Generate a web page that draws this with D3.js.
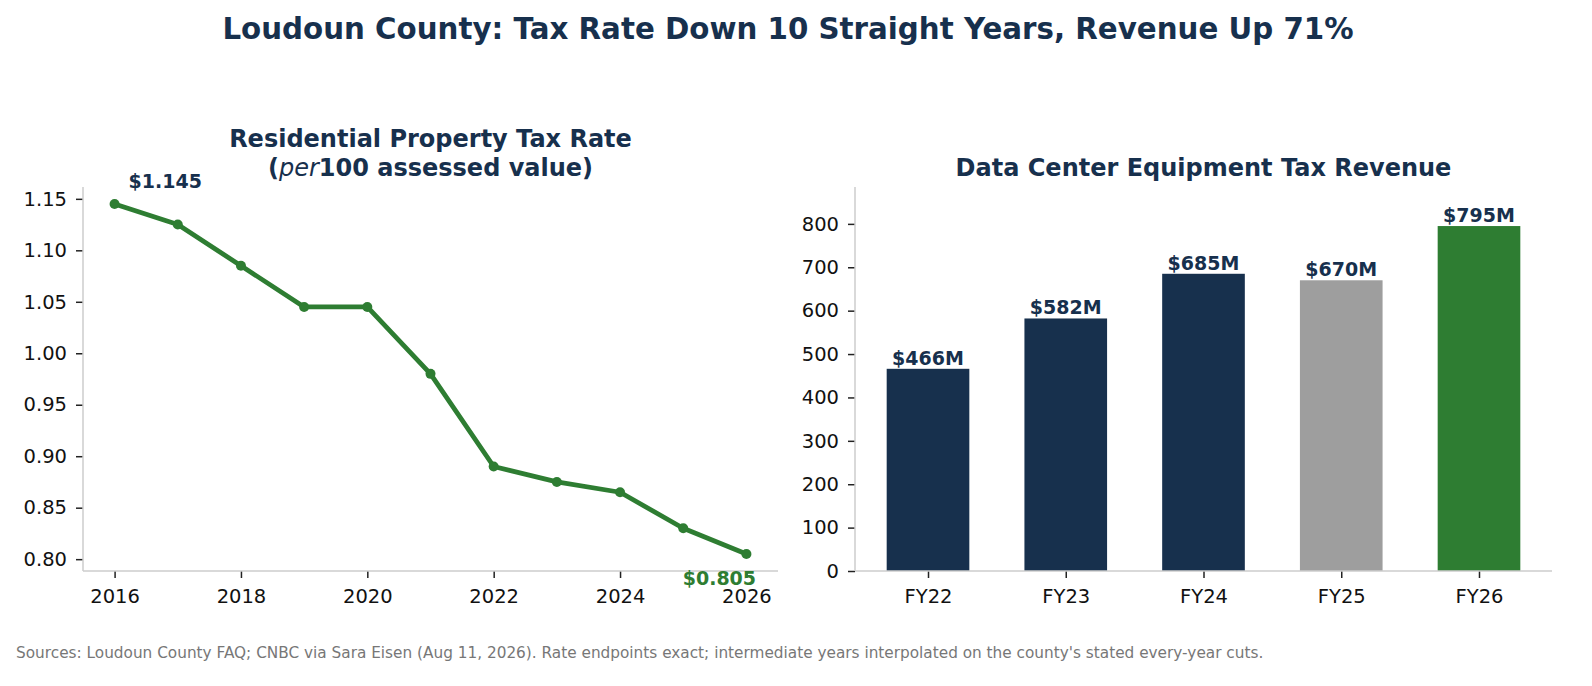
<!DOCTYPE html>
<html>
<head>
<meta charset="utf-8">
<script src="https://cdn.jsdelivr.net/npm/d3@7"></script>
<style>
  body { margin: 0; background: #fff; }
  svg { font-family: "DejaVu Sans", sans-serif; }
</style>
</head>
<body>
<svg id="chart" width="1592" height="686"></svg>
<script>
// 数据
const years = [2016, 2017, 2018, 2019, 2020, 2021, 2022, 2023, 2024, 2025, 2026];
const rates = [1.145, 1.125, 1.085, 1.045, 1.045, 0.98, 0.89, 0.875, 0.865, 0.83, 0.805];
const yearTicks = [2016, 2018, 2020, 2022, 2024, 2026];
const rateTicks = [0.80, 0.85, 0.90, 0.95, 1.00, 1.05, 1.10, 1.15];

const fiscalYears = ['FY22', 'FY23', 'FY24', 'FY25', 'FY26'];
const revenue = [466, 582, 685, 670, 795];
const revenueTicks = [0, 100, 200, 300, 400, 500, 600, 700, 800];
const barColors = ['#17304d', '#17304d', '#17304d', '#9e9e9e', '#2e7d32'];

const navy = '#17304d', green = '#2e7d32', spine = '#cccccc';

let svg = d3.select('#chart');

// 总标题
svg.append('text')
    .attr('x', 788).attr('y', 39)
    .attr('text-anchor', 'middle')
    .style('font-size', '29.3px').style('font-weight', 'bold')
    .attr('fill', navy)
    .text('Loudoun County: Tax Rate Down 10 Straight Years, Revenue Up 71%');

// 坐标轴样式
function styleAxis(g) {
    g.selectAll('.domain').remove();
    g.selectAll('.tick line').attr('stroke', '#222').attr('stroke-width', 1.5);
    g.selectAll('.tick text').attr('fill', '#111').style('font-size', '19.5px')
        .style('font-family', '"DejaVu Sans", sans-serif');
}

// ---------- 左图: 税率 ----------
let L = {left: 83, right: 778, top: 187, bottom: 571};
let xL = d3.scaleLinear().domain([2015.5, 2026.5]).range([L.left, L.right]);
let yL = d3.scaleLinear().domain([0.7885, 1.1615]).range([L.bottom, L.top]);

let gL = svg.append('g');

gL.append('g')
    .attr('transform', 'translate(0,' + L.bottom + ')')
    .call(d3.axisBottom(xL).tickValues(yearTicks).tickFormat(d3.format('d')).tickSize(7).tickPadding(11))
    .call(styleAxis);
gL.append('g')
    .attr('transform', 'translate(' + L.left + ',0)')
    .call(d3.axisLeft(yL).tickValues(rateTicks).tickFormat(d3.format('.2f')).tickSize(7).tickPadding(9))
    .call(styleAxis);

// 轴线
gL.append('line').attr('x1', L.left).attr('x2', L.left).attr('y1', L.top).attr('y2', L.bottom)
    .attr('stroke', spine).attr('stroke-width', 1.5);
gL.append('line').attr('x1', L.left).attr('x2', L.right).attr('y1', L.bottom).attr('y2', L.bottom)
    .attr('stroke', spine).attr('stroke-width', 1.5);

let line = d3.line().x((d, i) => xL(years[i])).y(d => yL(d));
gL.append('path')
    .datum(rates)
    .attr('d', line)
    .attr('fill', 'none')
    .attr('stroke', green)
    .attr('stroke-width', 4.8)
    .attr('stroke-linejoin', 'round');
gL.selectAll('circle')
    .data(rates)
    .enter()
    .append('circle')
    .attr('cx', (d, i) => xL(years[i]))
    .attr('cy', d => yL(d))
    .attr('r', 5)
    .attr('fill', green);

// 端点标注
gL.append('text')
    .attr('x', xL(years[0]) + 14).attr('y', yL(rates[0]) - 16)
    .style('font-size', '19px').style('font-weight', 'bold')
    .attr('fill', navy)
    .text('$' + rates[0].toFixed(3));
gL.append('text')
    .attr('x', xL(years[years.length - 1]) - 27).attr('y', yL(rates[rates.length - 1]) + 31)
    .attr('text-anchor', 'middle')
    .style('font-size', '19px').style('font-weight', 'bold')
    .attr('fill', green)
    .text('$' + rates[rates.length - 1].toFixed(3));

// 左图标题
let cxL = (L.left + L.right) / 2;
gL.append('text')
    .attr('x', cxL).attr('y', 147)
    .attr('text-anchor', 'middle')
    .style('font-size', '24px').style('font-weight', 'bold')
    .attr('fill', navy)
    .text('Residential Property Tax Rate');
let t2 = gL.append('text')
    .attr('x', cxL).attr('y', 176)
    .attr('text-anchor', 'middle')
    .style('font-size', '24px').style('font-weight', 'bold')
    .attr('fill', navy);
t2.append('tspan').text('(');
t2.append('tspan').style('font-style', 'italic').style('font-weight', 'normal').text('per');
t2.append('tspan').text('100 assessed value)');

// ---------- 右图: 收入 ----------
let R = {left: 855, right: 1552, top: 187, bottom: 571};
let xR = d3.scaleLinear().domain([-0.53, 4.53]).range([R.left, R.right]);
let yR = d3.scaleLinear().domain([0, 885]).range([R.bottom, R.top]);
let bw = 0.6;

let gR = svg.append('g');
gR.append('g')
    .attr('transform', 'translate(0,' + R.bottom + ')')
    .call(d3.axisBottom(xR).tickValues(d3.range(fiscalYears.length)).tickFormat(i => fiscalYears[i]).tickSize(7).tickPadding(11))
    .call(styleAxis);
gR.append('g')
    .attr('transform', 'translate(' + R.left + ',0)')
    .call(d3.axisLeft(yR).tickValues(revenueTicks).tickSize(7).tickPadding(9))
    .call(styleAxis);

gR.selectAll('rect')
    .data(revenue)
    .enter()
    .append('rect')
    .attr('x', (d, i) => xR(i - bw / 2))
    .attr('width', (d, i) => xR(i + bw / 2) - xR(i - bw / 2))
    .attr('y', d => yR(d))
    .attr('height', d => R.bottom - yR(d))
    .attr('fill', (d, i) => barColors[i]);

gR.selectAll('.barLabel')
    .data(revenue)
    .enter()
    .append('text')
    .attr('class', 'barLabel')
    .attr('x', (d, i) => xR(i))
    .attr('y', d => yR(d) - 4)
    .attr('text-anchor', 'middle')
    .style('font-size', '19px').style('font-weight', 'bold')
    .attr('fill', navy)
    .text(d => '$' + d + 'M');

gR.append('line').attr('x1', R.left).attr('x2', R.left).attr('y1', R.top).attr('y2', R.bottom)
    .attr('stroke', spine).attr('stroke-width', 1.5);
gR.append('line').attr('x1', R.left).attr('x2', R.right).attr('y1', R.bottom).attr('y2', R.bottom)
    .attr('stroke', spine).attr('stroke-width', 1.5);

gR.append('text')
    .attr('x', (R.left + R.right) / 2).attr('y', 176)
    .attr('text-anchor', 'middle')
    .style('font-size', '24px').style('font-weight', 'bold')
    .attr('fill', navy)
    .text('Data Center Equipment Tax Revenue');

// 来源
svg.append('text')
    .attr('x', 16).attr('y', 658)
    .style('font-size', '15.3px')
    .attr('fill', '#777')
    .text("Sources: Loudoun County FAQ; CNBC via Sara Eisen (Aug 11, 2026). Rate endpoints exact; intermediate years interpolated on the county's stated every-year cuts.");
</script>
</body>
</html>
